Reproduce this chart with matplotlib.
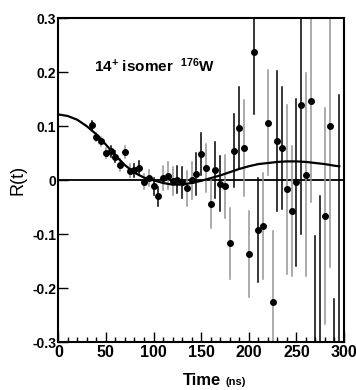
import matplotlib
matplotlib.use("Agg")
import matplotlib.pyplot as plt

plt.rcParams['font.family'] = ['Liberation Sans', 'DejaVu Sans']
plt.rcParams['font.weight'] = 'bold'
plt.rcParams['mathtext.fontset'] = 'custom'
plt.rcParams['mathtext.rm'] = 'Liberation Sans:bold'
plt.rcParams['mathtext.default'] = 'rm'

# measured points (time in ns)
t = [35, 40, 45, 50, 55, 60, 65, 70, 75, 80, 85, 90, 95, 100, 105,
     110, 115, 120, 125, 130, 135, 140, 145, 150, 155, 160, 165, 170, 175, 180,
     185, 190, 195, 200, 205, 210, 215, 220, 225, 230, 235, 240, 245, 250, 255,
     260, 265, 270, 275, 280, 285, 290, 295]
r = [0.102, 0.080, 0.072, 0.051, 0.054, 0.044, 0.028, 0.052, 0.018, 0.019,
     0.023, -0.003, 0.004, -0.011, -0.030,
     0.004, 0.008, -0.002, 0.001, -0.004, -0.015, 0.000, 0.012, 0.049, 0.023,
     -0.043, 0.019, -0.006, -0.011, -0.117,
     0.055, 0.096, 0.060, -0.136, 0.238, -0.092, -0.084, 0.107, -0.225, 0.073,
     0.059, -0.017, -0.057, -0.004, 0.139,
     0.010, 0.146, -0.330, -0.320, -0.066, 0.100, -0.450, -0.350]
err = [0.008, 0.008, 0.009, 0.009, 0.010, 0.010, 0.011, 0.011, 0.012, 0.012,
       0.013, 0.014, 0.015, 0.016, 0.018,
       0.022, 0.025, 0.026, 0.025, 0.029, 0.033, 0.034, 0.039, 0.039, 0.044,
       0.046, 0.051, 0.051, 0.058, 0.065,
       0.068, 0.076, 0.089, 0.080, 0.116, 0.096, 0.098, 0.098, 0.131, 0.129,
       0.113, 0.157, 0.121, 0.154, 0.238,
       0.188, 0.187, 0.226, 0.290, 0.200, 0.260, 0.230, 0.508]
grey = [0, 1, 1, 1, 0, 0, 1, 1, 1, 0, 0, 1, 1, 0, 0,
        1, 1, 1, 0, 0, 1, 1, 0, 0, 1, 1, 0, 0, 1, 1,
        0, 0, 1, 1, 0, 0, 1, 1, 1, 0, 0, 1, 1, 0, 0,
        1, 1, 0, 0, 1, 1, 0, 0]

# fitted curve
t_fit = [0, 10, 20, 30, 40, 50, 60, 70, 80, 90, 100, 110, 120, 130, 140, 150,
         160, 170, 180, 190, 200, 210, 220, 230, 240, 250, 260, 270, 280, 290, 295]
r_fit = [0.122, 0.119, 0.112, 0.100, 0.085, 0.066, 0.046, 0.028, 0.014, 0.005,
         0.000, -0.005, -0.008, -0.008, -0.005, -0.001, 0.004, 0.009, 0.015,
         0.021, 0.026, 0.030, 0.032, 0.034, 0.035, 0.035, 0.034, 0.032, 0.030,
         0.027, 0.026]

fig = plt.figure(figsize=(3.56, 3.90), dpi=100)
ax = fig.add_axes([0.1638, 0.1223, 0.8025, 0.8308])

for ti, ri, ei, g in zip(t, r, err, grey):
    c = '#959595' if g else 'black'
    ax.plot([ti, ti], [ri - ei, ri + ei], color=c, lw=1.1, zorder=2)
ax.plot(t, r, 'o', color='black', ms=4.0, zorder=3)

ax.axhline(0, color='black', lw=1.3, zorder=1)
ax.plot(t_fit, r_fit, color='black', lw=1.6, zorder=4)

ax.set_xlim(0, 300)
ax.set_ylim(-0.3, 0.3)
ax.set_xticks([0, 50, 100, 150, 200, 250, 300])
ax.set_xticks(range(0, 301, 10), minor=True)
ax.set_yticks([-0.3, -0.2, -0.1, 0, 0.1, 0.2, 0.3])
ax.set_yticklabels(['-0.3', '-0.2', '-0.1', '0', '0.1', '0.2', '0.3'])
ax.tick_params(which='both', direction='in', top=False, right=False, width=1.0)
ax.tick_params(axis='x', which='major', length=7, labelsize=11.5, pad=2)
ax.tick_params(axis='x', which='minor', length=3.5)
ax.tick_params(axis='y', which='major', length=7, labelsize=10, pad=1.5)
for s in ax.spines.values():
    s.set_linewidth(1.5)

ax.set_ylabel('R(t)', fontsize=13, labelpad=4)
fig.text(183 / 356, 1 - 385 / 390, 'Time', fontsize=12, ha='left', va='baseline')
fig.text(225 / 356, 1 - 385 / 390, '(ns)', fontsize=8, ha='left', va='baseline')
fig.text(94 / 356, 1 - 71.7 / 390, '14$^{+}$ isomer  $^{176}$W', fontsize=11,
         ha='left', va='baseline')

fig.savefig('out.png', dpi=100)
